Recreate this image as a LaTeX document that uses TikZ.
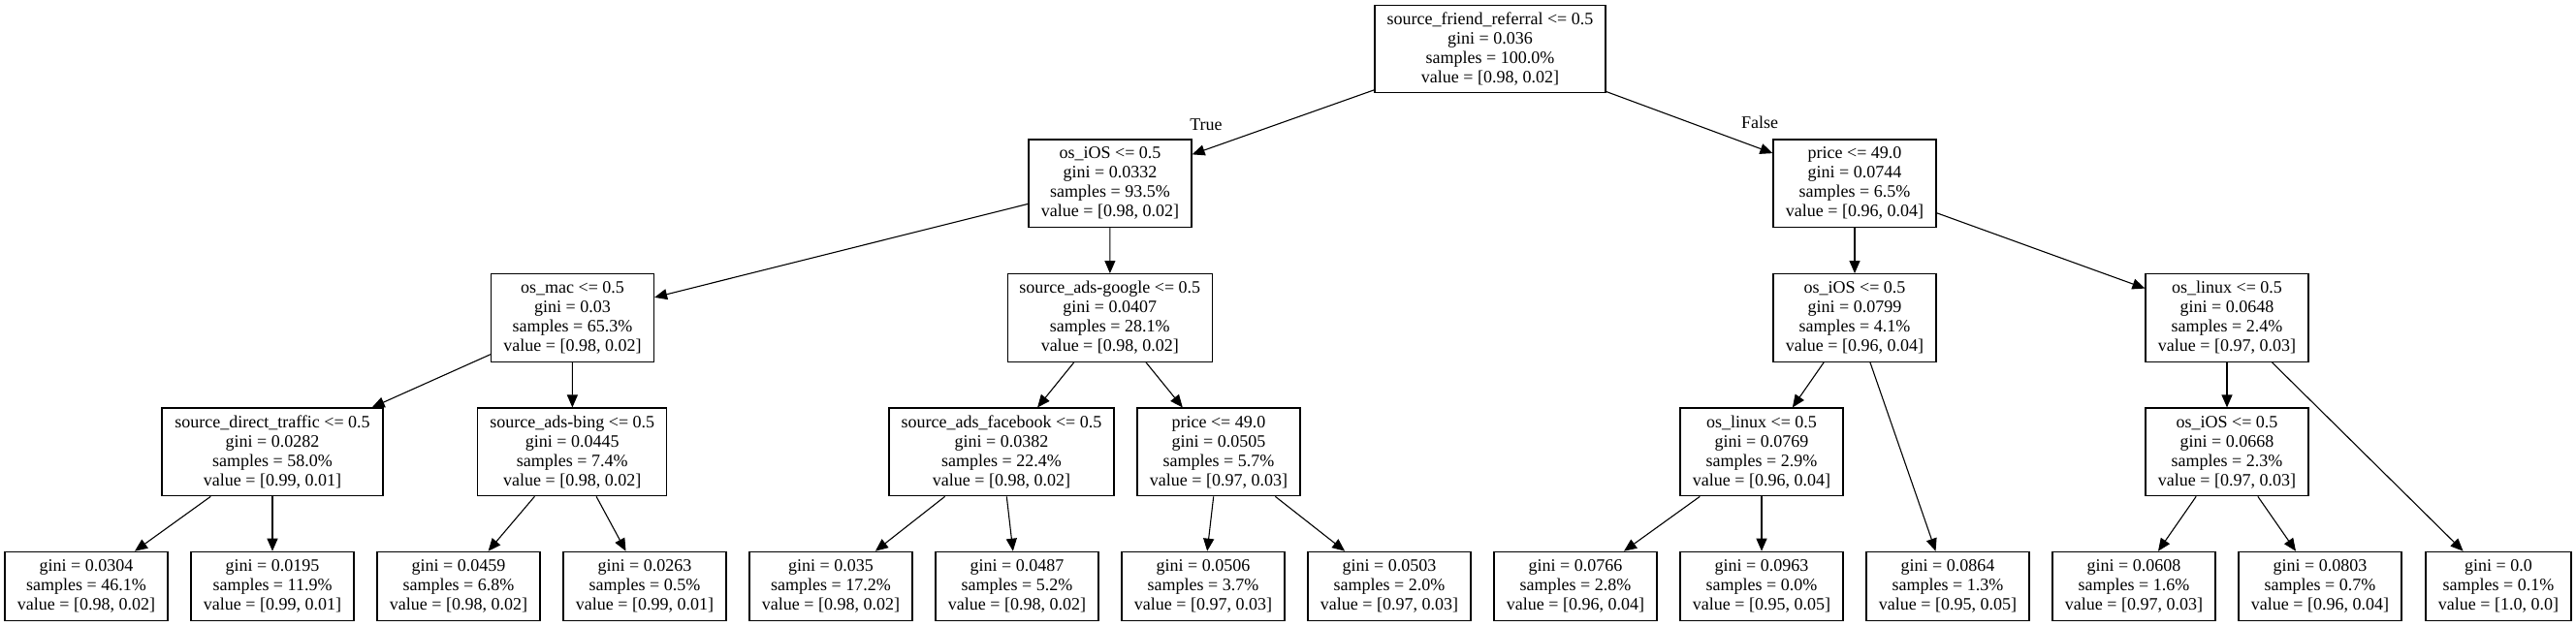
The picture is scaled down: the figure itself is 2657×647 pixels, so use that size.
\documentclass[tikz,border=0pt]{standalone}
\usepackage{fontspec}
\setmainfont{Liberation Serif}
\usetikzlibrary{arrows.meta}
\tikzset{
  tbox/.style={draw=black, line width=1.2pt, rectangle, align=center, inner sep=0pt,
    font=\fontsize{18}{20}\selectfont, minimum height=90.7pt, minimum width=168pt},
  leafbox/.style={tbox, minimum height=71pt},
  elabel/.style={inner sep=0pt, font=\fontsize{18}{20}\selectfont},
  edge/.style={line width=1.1pt, -{Triangle[length=13pt,width=11pt]}}
}
\begin{document}
\begin{tikzpicture}[x=1pt,y=-1pt]
\useasboundingbox (0,0) rectangle (2657,647);
% level 0
\node[tbox, minimum width=238pt] (n0) at (1537,50.5) {source\_friend\_referral <= 0.5\\gini = 0.036\\samples = 100.0\%\\value = [0.98, 0.02]};
% level 1
\node[tbox] (n1) at (1145,189.3) {os\_iOS <= 0.5\\gini = 0.0332\\samples = 93.5\%\\value = [0.98, 0.02]};
\node[tbox] (n2) at (1913,189.3) {price <= 49.0\\gini = 0.0744\\samples = 6.5\%\\value = [0.96, 0.04]};
% level 2
\node[tbox] (n3) at (590.5,328) {os\_mac <= 0.5\\gini = 0.03\\samples = 65.3\%\\value = [0.98, 0.02]};
\node[tbox, minimum width=211pt] (n4) at (1144.8,328) {source\_ads-google <= 0.5\\gini = 0.0407\\samples = 28.1\%\\value = [0.98, 0.02]};
\node[tbox] (n5) at (1913,328) {os\_iOS <= 0.5\\gini = 0.0799\\samples = 4.1\%\\value = [0.96, 0.04]};
\node[tbox] (n6) at (2297,328) {os\_linux <= 0.5\\gini = 0.0648\\samples = 2.4\%\\value = [0.97, 0.03]};
% level 3
\node[tbox, minimum width=228pt] (n7) at (281,466.4) {source\_direct\_traffic <= 0.5\\gini = 0.0282\\samples = 58.0\%\\value = [0.99, 0.01]};
\node[tbox, minimum width=195pt] (n8) at (590.3,466.4) {source\_ads-bing <= 0.5\\gini = 0.0445\\samples = 7.4\%\\value = [0.98, 0.02]};
\node[tbox, minimum width=232pt] (n9) at (1033,466.4) {source\_ads\_facebook <= 0.5\\gini = 0.0382\\samples = 22.4\%\\value = [0.98, 0.02]};
\node[tbox] (n10) at (1257,466.4) {price <= 49.0\\gini = 0.0505\\samples = 5.7\%\\value = [0.97, 0.03]};
\node[tbox] (n11) at (1817,466.4) {os\_linux <= 0.5\\gini = 0.0769\\samples = 2.9\%\\value = [0.96, 0.04]};
\node[tbox] (n12) at (2297,466.4) {os\_iOS <= 0.5\\gini = 0.0668\\samples = 2.3\%\\value = [0.97, 0.03]};
% leaves
\node[leafbox] (l1) at (89,604.8) {gini = 0.0304\\samples = 46.1\%\\value = [0.98, 0.02]};
\node[leafbox] (l2) at (281,604.8) {gini = 0.0195\\samples = 11.9\%\\value = [0.99, 0.01]};
\node[leafbox] (l3) at (473,604.8) {gini = 0.0459\\samples = 6.8\%\\value = [0.98, 0.02]};
\node[leafbox] (l4) at (665,604.8) {gini = 0.0263\\samples = 0.5\%\\value = [0.99, 0.01]};
\node[leafbox] (l5) at (857,604.8) {gini = 0.035\\samples = 17.2\%\\value = [0.98, 0.02]};
\node[leafbox] (l6) at (1049,604.8) {gini = 0.0487\\samples = 5.2\%\\value = [0.98, 0.02]};
\node[leafbox] (l7) at (1241,604.8) {gini = 0.0506\\samples = 3.7\%\\value = [0.97, 0.03]};
\node[leafbox] (l8) at (1433,604.8) {gini = 0.0503\\samples = 2.0\%\\value = [0.97, 0.03]};
\node[leafbox] (l9) at (1625,604.8) {gini = 0.0766\\samples = 2.8\%\\value = [0.96, 0.04]};
\node[leafbox] (l10) at (1817,604.8) {gini = 0.0963\\samples = 0.0\%\\value = [0.95, 0.05]};
\node[leafbox] (l11) at (2009,604.8) {gini = 0.0864\\samples = 1.3\%\\value = [0.95, 0.05]};
\node[leafbox] (l12) at (2201,604.8) {gini = 0.0608\\samples = 1.6\%\\value = [0.97, 0.03]};
\node[leafbox] (l13) at (2393,604.8) {gini = 0.0803\\samples = 0.7\%\\value = [0.96, 0.04]};
\node[leafbox, minimum width=150pt] (l14) at (2577,604.8) {gini = 0.0\\samples = 0.1\%\\value = [1.0, 0.0]};
% edge labels
\node[elabel] (tlabel) at (1244,128.5) {True};
\node[elabel] (flabel) at (1815,126.4) {False};
% edges
\draw[edge] (n0) -- (n1);
\draw[edge] (n0) -- (n2);
\draw[edge] (n1) -- (n3);
\draw[edge] (n1) -- (n4);
\draw[edge] (n2) -- (n5);
\draw[edge] (n2) -- (n6);
\draw[edge] (n3) -- (n7);
\draw[edge] (n3) -- (n8);
\draw[edge] (n4) -- (n9);
\draw[edge] (n4) -- (n10);
\draw[edge] (n5) -- (n11);
\draw[edge] (n5) -- (l11);
\draw[edge] (n6) -- (n12);
\draw[edge] (n6) -- (l14);
\draw[edge] (n7) -- (l1);
\draw[edge] (n7) -- (l2);
\draw[edge] (n8) -- (l3);
\draw[edge] (n8) -- (l4);
\draw[edge] (n9) -- (l5);
\draw[edge] (n9) -- (l6);
\draw[edge] (n10) -- (l7);
\draw[edge] (n10) -- (l8);
\draw[edge] (n11) -- (l9);
\draw[edge] (n11) -- (l10);
\draw[edge] (n12) -- (l12);
\draw[edge] (n12) -- (l13);
\end{tikzpicture}
\end{document}
